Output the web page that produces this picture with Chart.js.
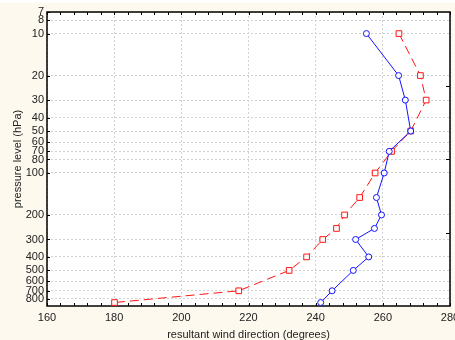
<!DOCTYPE html>
<html>
<head>
<meta charset="utf-8">
<script src="https://cdn.jsdelivr.net/npm/chart.js@4"></script>
<style>
  html, body { margin: 0; padding: 0; background: #fff; }
  #wrap { position: absolute; left: 0; top: 3px; width: 455px; height: 337px; background: #fdf9ee; }
</style>
</head>
<body>
<div id="wrap"><canvas id="windChart" width="455" height="337"></canvas></div>
<script>
// pressure levels (hPa) and resultant wind direction (degrees)
const levels = [10, 20, 30, 50, 70, 100, 150, 200, 250, 300, 400, 500, 700, 850];
const dirBlue = [255.1, 264.7, 266.7, 268.3, 261.9, 260.4, 258.1, 259.6, 257.5, 251.9, 255.8, 251.2, 244.9, 241.5];
const dirRed = [264.8, 271.2, 272.9, 268.3, 262.6, 257.7, 253.1, 248.6, 246.2, 242.1, 237.3, 232.1, 217.1, 180.1];
const yTicks = [7, 8, 10, 20, 30, 40, 50, 60, 70, 80, 100, 200, 300, 400, 500, 600, 700, 800];
const xTicks = [160, 180, 200, 220, 240, 260, 280];

const font = { family: 'Liberation Sans, Arial, sans-serif', size: 11 };
const gridColor = '#d2d2d2';

// white plot area, black frame and the little inward tick marks
const framePlugin = {
    id: 'frame',
    beforeDraw(chart) {
        const a = chart.chartArea;
        const ctx = chart.ctx;
        ctx.save();
        ctx.fillStyle = '#ffffff';
        ctx.fillRect(a.left, a.top, a.right - a.left, a.bottom - a.top);
        ctx.restore();
    },
    beforeDatasetsDraw(chart) {
        const a = chart.chartArea;
        const ctx = chart.ctx;
        const xs = chart.scales.x;
        const ys = chart.scales.y;
        ctx.save();
        ctx.strokeStyle = '#000';
        ctx.lineWidth = 1;
        ctx.beginPath();
        // minor ticks on top and bottom, every 4 degrees
        for (let v = 160; v <= 280; v += 4) {
            const px = Math.round(xs.getPixelForValue(v)) + 0.5;
            ctx.moveTo(px, a.bottom); ctx.lineTo(px, a.bottom - 3);
            ctx.moveTo(px, a.top); ctx.lineTo(px, a.top + 3);
        }
        // left ticks at the labelled levels
        yTicks.forEach(v => {
            const py = Math.round(ys.getPixelForValue(v)) + 0.5;
            ctx.moveTo(a.left, py); ctx.lineTo(a.left + 3, py);
        });
        // right ticks at quarters
        for (let i = 1; i < 4; i++) {
            const py = Math.round(a.top + (a.bottom - a.top) * i / 4) + 0.5;
            ctx.moveTo(a.right, py); ctx.lineTo(a.right - 4, py);
        }
        ctx.stroke();
        ctx.lineWidth = 1.5;
        ctx.strokeRect(a.left, a.top, a.right - a.left, a.bottom - a.top);
        ctx.restore();
    }
};

const ctx = document.getElementById('windChart').getContext('2d');

const windChart = new Chart(ctx, {
    type: 'line',
    data: {
        datasets: [{
            label: 'profile 1',
            data: levels.map((p, i) => ({ x: dirBlue[i], y: p })),
            borderColor: 'rgb(20, 20, 255)',
            backgroundColor: '#ffffff',
            borderWidth: 1,
            pointStyle: 'circle',
            pointRadius: 3,
            pointBorderWidth: 1,
            pointBorderColor: 'rgb(20, 20, 255)',
            pointBackgroundColor: '#ffffff',
            tension: 0,
            clip: false
        }, {
            label: 'profile 2',
            data: levels.map((p, i) => ({ x: dirRed[i], y: p })),
            borderColor: 'rgb(255, 20, 20)',
            backgroundColor: '#ffffff',
            borderWidth: 1,
            borderDash: [9, 5],
            pointStyle: 'rect',
            pointRadius: 4,
            pointBorderWidth: 1,
            pointBorderColor: 'rgb(255, 20, 20)',
            pointBackgroundColor: '#ffffff',
            tension: 0,
            clip: false
        }]
    },
    options: {
        responsive: false,
        animation: false,
        devicePixelRatio: 1,
        layout: { padding: { left: 0, right: 5, top: 9, bottom: 0 } },
        plugins: {
            legend: { display: false },
            tooltip: { enabled: false }
        },
        scales: {
            x: {
                type: 'linear',
                min: 160,
                max: 280,
                afterBuildTicks: s => { s.ticks = xTicks.map(v => ({ value: v })); },
                afterFit: s => { s.height = 34; s.paddingLeft = 0; s.paddingRight = 0; },
                ticks: { font: font, color: '#222', padding: 5, maxRotation: 0, autoSkip: false },
                grid: { color: gridColor, drawTicks: false },
                border: { display: false, dash: [2, 2] },
                title: {
                    display: true,
                    text: 'resultant wind direction (degrees)',
                    font: font,
                    color: '#222',
                    padding: { top: 0, bottom: -2 }
                }
            },
            y: {
                type: 'logarithmic',
                reverse: true,
                min: 7,
                max: 900,
                afterBuildTicks: s => { s.ticks = yTicks.map(v => ({ value: v })); },
                afterFit: s => { s.width = 47; s.paddingTop = 0; s.paddingBottom = 0; },
                ticks: {
                    font: font,
                    color: '#222',
                    padding: 3,
                    autoSkip: false,
                    callback: v => String(v)
                },
                grid: { color: gridColor, drawTicks: false },
                border: { display: false, dash: [2, 2] },
                title: {
                    display: true,
                    text: 'pressure level (hPa)',
                    font: font,
                    color: '#222',
                    padding: { top: 11, bottom: 0 }
                }
            }
        }
    },
    plugins: [framePlugin]
});
</script>
</body>
</html>
